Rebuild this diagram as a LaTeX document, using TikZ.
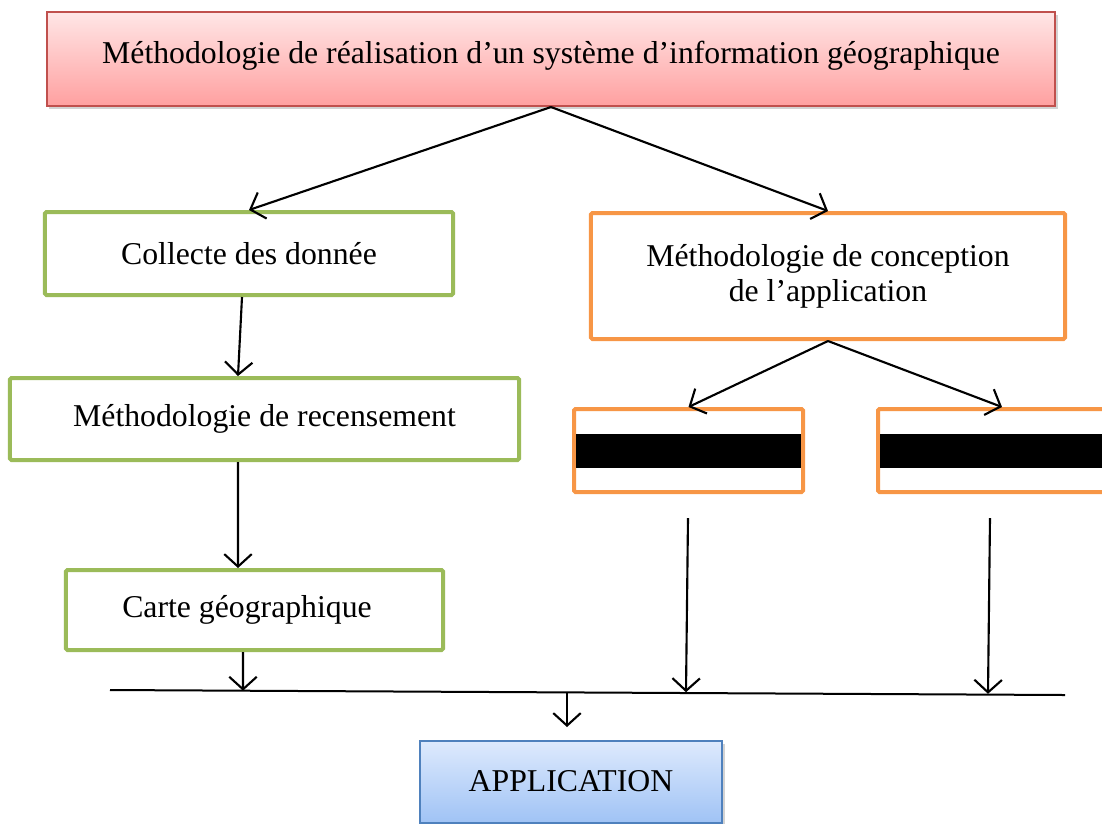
\documentclass[tikz,border=0pt]{standalone}
\usepackage{fontspec}
\setmainfont{Liberation Serif}
\usepackage{tikz}
\usetikzlibrary{calc, arrows.meta, shadows, positioning}
\definecolor{titlered}{RGB}{192,80,77}
\definecolor{stepgreen}{RGB}{155,187,89}
\definecolor{steporange}{RGB}{247,150,70}
\definecolor{appblue}{RGB}{79,129,189}
\tikzstyle{box}=[draw, fill=white, rectangle, inner sep=0pt,
font=\fontsize{12.7}{14}\selectfont, align=center]
\tikzstyle{greenbox}=[box, draw=stepgreen, line width=1.6pt, rounded corners=0.6pt]
\tikzstyle{orangebox}=[box, draw=steporange, line width=1.6pt, rounded corners=0.6pt]
\tikzstyle{arr}=[line width=0.85pt, -{Straight Barb[length=5pt,width=11pt]}]

\begin{document}
\begin{tikzpicture}[x=0.4pt, y=-0.4pt]
\useasboundingbox (0,0) rectangle (1102,823);
\clip (0,0) rectangle (1102,823);
\draw (551,59) node [box, draw=titlered, line width=0.8pt, top color={rgb,255:red,255;green,230;blue,230},
  bottom color={rgb,255:red,255;green,160;blue,160},
  drop shadow={opacity=0.35, shadow xshift=1pt, shadow yshift=-1.2pt},
  minimum width=403.2pt, minimum height=37.6pt, text depth=5pt] (sig)
  {M\'ethodologie de r\'ealisation d'un syst\`eme d'information g\'eographique};
\draw (249,253.5) node [greenbox, minimum width=163.2pt, minimum height=33.2pt] (collecte) {Collecte des donn\'ee};
\draw (828,276) node [orangebox, minimum width=189.6pt, minimum height=50.4pt] (conception) {M\'ethodologie de conception\\de l'application};
\draw (264.5,419) node [greenbox, minimum width=203.6pt, minimum height=32.8pt] (recens) {M\'ethodologie de recensement};
\draw (254.5,610) node [greenbox, minimum width=150.8pt, minimum height=32pt] (carte) {\hspace*{-6pt}Carte g\'eographique};
\draw (688.5,450.5) node [orangebox, minimum width=91.6pt, minimum height=33.2pt] (tool1) {};
\draw (992.5,450.5) node [orangebox, minimum width=91.6pt, minimum height=33.2pt] (tool2) {};
\fill ($(tool1.west)+(1.6pt,-6.8pt)$) rectangle ($(tool1.east)+(-1.6pt,6.8pt)$);
\fill ($(tool2.west)+(1.6pt,-6.8pt)$) rectangle ($(tool2.east)+(-1.6pt,6.8pt)$);
\draw (571,781.5) node [box, draw=appblue, line width=0.8pt, top color={rgb,255:red,222;green,234;blue,253},
  bottom color={rgb,255:red,160;green,195;blue,245},
  drop shadow={opacity=0.35, shadow xshift=1pt, shadow yshift=-1.2pt},
  minimum width=120.8pt, minimum height=32.8pt] (app) {APPLICATION};
% bus line
\coordinate (busL) at (110,690);
\coordinate (busR) at (1065,695);
\coordinate (j1) at (243,690.7);
\coordinate (s1) at (688,518);
\coordinate (j2) at (686,692.2);
\coordinate (s2) at (990,518);
\coordinate (j3) at (988,693.8);
\coordinate (jm) at (567,692.4);
\coordinate (e4) at (567,727);
\draw[line width=0.8pt] (busL) -- (busR);
\draw[arr] (sig.south) -- (collecte.north);
\draw[arr] (sig.south) -- (conception.north);
\draw[arr] ([xshift=-2.8pt]collecte.south) -- ([xshift=-10.6pt]recens.north);
\draw[arr] ([xshift=-10.6pt]recens.south) -- ([xshift=-6.6pt]carte.north);
\draw[arr] (conception.south) -- (tool1.north);
\draw[arr] (conception.south) -- ([xshift=3.8pt]tool2.north);
\draw[arr] ([xshift=-4.6pt]carte.south) -- (j1);
\draw[arr] (s1) -- (j2);
\draw[arr] (s2) -- (j3);
\draw[arr] (jm) -- (e4);
\end{tikzpicture}
\end{document}
